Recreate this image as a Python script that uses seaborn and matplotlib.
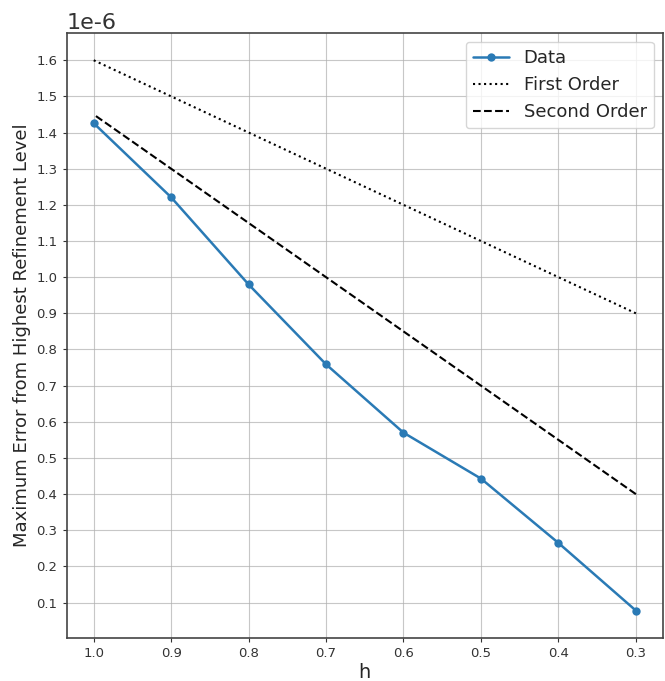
import matplotlib
matplotlib.use("Agg")
import matplotlib.pyplot as plt
from matplotlib.ticker import MultipleLocator
import seaborn as sns
import pandas as pd

h = [1.0, 0.9, 0.8, 0.7, 0.6, 0.5, 0.4, 0.3]
data_err = [1.426e-6, 1.221e-6, 0.980e-6, 0.759e-6, 0.570e-6, 0.443e-6, 0.265e-6, 0.078e-6]
first_order = [1.6e-6, 1.5e-6, 1.4e-6, 1.3e-6, 1.2e-6, 1.1e-6, 1.0e-6, 0.9e-6]
second_order = [1.45e-6, 1.30e-6, 1.15e-6, 1.00e-6, 0.85e-6, 0.70e-6, 0.55e-6, 0.40e-6]

sns.set_style("ticks")
plt.rcParams['font.family'] = ['DejaVu Sans']
plt.rcParams['axes.unicode_minus'] = False

df = pd.DataFrame({"h": h, "Data": data_err, "First Order": first_order, "Second Order": second_order})

fig, ax = plt.subplots(figsize=(6.65, 6.81), dpi=100)
sns.lineplot(data=df, x="h", y="Data", ax=ax, marker="o", markersize=6, markeredgewidth=0,
             color="#2a7ab5", linewidth=1.8, label="Data")
sns.lineplot(data=df, x="h", y="First Order", ax=ax, color="black", linestyle=":", linewidth=1.5, label="First Order")
sns.lineplot(data=df, x="h", y="Second Order", ax=ax, color="black", linestyle="--", linewidth=1.5, label="Second Order")

ax.invert_xaxis()
ax.set_xticks(h)
ax.set_xticklabels([f"{v:.1f}" for v in h])
ax.yaxis.set_major_locator(MultipleLocator(1e-7))
ax.grid(True, color="#b0b0b0", linewidth=0.8, alpha=0.7)
ax.set_xlabel("h", fontsize=14, labelpad=2)
ax.set_ylabel("Maximum Error from Highest Refinement Level", fontsize=13)
ax.tick_params(labelsize=9.5, colors="#333333", length=3)
ax.yaxis.get_offset_text().set_fontsize(16)
for s in ax.spines.values():
    s.set_color("#444444")
    s.set_linewidth(1.2)
leg = ax.legend(fontsize=13, loc="upper right", frameon=True)

fig.subplots_adjust(left=0.10, right=0.997, top=0.952, bottom=0.063)
fig.savefig("out.png", dpi=100)
